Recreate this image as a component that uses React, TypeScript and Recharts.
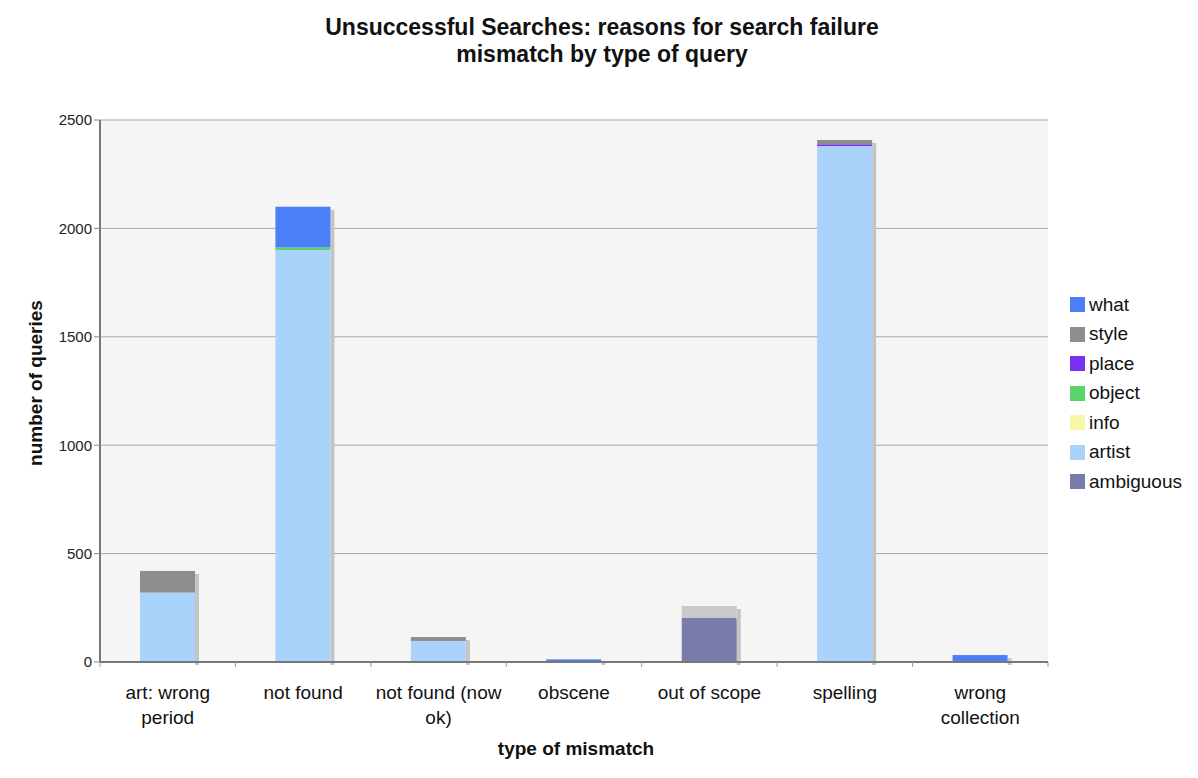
import React from "react";
import { BarChart, Bar, XAxis, YAxis, CartesianGrid } from "recharts";

const categories = ["art: wrong period", "not found", "not found (now ok)", "obscene", "out of scope", "spelling", "wrong collection"];
const categoryLines = [["art: wrong", "period"], ["not found"], ["not found (now", "ok)"], ["obscene"], ["out of scope"], ["spelling"], ["wrong", "collection"]];

const ambiguous = [0, 0, 0, 0, 203, 0, 0];
const artist = [320, 1900, 97, 0, 0, 2380, 0];
const info = [0, 0, 0, 0, 0, 0, 0];
const object = [0, 12, 0, 0, 0, 0, 0];
const place = [0, 0, 0, 0, 0, 8, 0];
const style = [100, 0, 18, 0, 0, 20, 0];
const what = [0, 188, 0, 12, 0, 0, 32];
const other = [0, 0, 0, 0, 55, 0, 0];

const yTicks = [0, 500, 1000, 1500, 2000, 2500];

const series = [
  { key: "ambiguous", values: ambiguous, color: "#7a7aab" },
  { key: "artist", values: artist, color: "#a9d3fb" },
  { key: "info", values: info, color: "#f8f7a6" },
  { key: "object", values: object, color: "#5cd46c" },
  { key: "place", values: place, color: "#7a30f0" },
  { key: "style", values: style, color: "#8e8e8e" },
  { key: "what", values: what, color: "#4a7ff6" },
  { key: "other", values: other, color: "#c9c9c9" },
];

const legendItems = ["what", "style", "place", "object", "info", "artist", "ambiguous"];

const data = categories.map((c, i) => {
  const row: any = { name: c, idx: i };
  series.forEach((s) => (row[s.key] = s.values[i]));
  return row;
});

const FONT = "'Liberation Sans', Arial, Helvetica, sans-serif";

const ShadowBar = (props: any) => {
  const { x, y, width, height, fill } = props;
  if (!height || height <= 0) return null;
  return (
    <g>
      <rect x={x + width} y={y + 3} width={4} height={height} fill="#c4c4c4" />
      <rect x={x} y={y} width={width} height={height} fill={fill} />
    </g>
  );
};

const XTick = (props: any) => {
  const { x, y, index, payload } = props;
  const lines = categoryLines[index] || [];
  const half = payload && payload.offset ? payload.offset : 67.7;
  return (
    <g>
      <line x1={x - half} x2={x - half} y1={y - 8} y2={y - 3} stroke="#999" />
      {index === categories.length - 1 && <line x1={x + half} x2={x + half} y1={y - 8} y2={y - 3} stroke="#999" />}
      {lines.map((l, i) => (
        <text key={i} x={x} y={y + 29 + i * 25} textAnchor="middle" fontSize={19} fill="#111" fontFamily={FONT}>
          {l}
        </text>
      ))}
    </g>
  );
};

export default function App() {
  return (
    <div style={{ position: "absolute", left: 0, top: 0, width: 1198, height: 778, background: "#fff", fontFamily: FONT }}>
      <div style={{ position: "absolute", top: 14, left: 0, width: 1204, textAlign: "center", fontWeight: "bold", fontSize: 23, lineHeight: "27px", color: "#111" }}>
        <div>Unsuccessful Searches: reasons for search failure</div>
        <div>mismatch by type of query</div>
      </div>
      <div style={{ position: "absolute", left: 576, top: 738, transform: "translateX(-50%)", fontWeight: "bold", fontSize: 19, color: "#111", whiteSpace: "nowrap" }}>
        type of mismatch
      </div>
      <div style={{ position: "absolute", left: 36, top: 383, transform: "translate(-50%, -50%) rotate(-90deg)", fontWeight: "bold", fontSize: 19, color: "#111", whiteSpace: "nowrap" }}>
        number of queries
      </div>
      <div style={{ position: "absolute", left: 1070, top: 290, fontSize: 19, color: "#111" }}>
        {legendItems.map((k) => {
          const s = series.find((q) => q.key === k)!;
          return (
            <div key={k} style={{ display: "flex", alignItems: "center", height: 29.5 }}>
              <div style={{ width: 15, height: 15, background: s.color, marginRight: 4 }} />
              <span>{k}</span>
            </div>
          );
        })}
      </div>
      <BarChart
        width={1198}
        height={778}
        data={data}
        margin={{ top: 120, right: 150, bottom: 56, left: 40 }}
        barCategoryGap={0}
        style={{ position: "absolute", left: 0, top: 0 }}
      >
        <CartesianGrid vertical={false} stroke="#a8a8a8" fill="#f5f5f5" />
        <XAxis
          dataKey="name"
          tick={<XTick />}
          tickLine={false}
          axisLine={{ stroke: "#777", strokeWidth: 2 }}
          interval={0}
          height={60}
        />
        <YAxis
          domain={[0, 2500]}
          ticks={yTicks}
          width={60}
          tick={{ fontSize: 15, fill: "#222", fontFamily: FONT }}
          tickLine={{ stroke: "#888" }}
          tickSize={6}
          axisLine={{ stroke: "#777", strokeWidth: 2 }}
        />
        <YAxis
          yAxisId="r"
          orientation="right"
          domain={[0, 2500]}
          width={0}
          tick={false}
          tickLine={false}
          axisLine={{ stroke: "#aaa", strokeWidth: 2 }}
        />
        {series.map((s) => (
          <Bar
            key={s.key}
            dataKey={s.key}
            stackId="a"
            fill={s.color}
            barSize={55}
            isAnimationActive={false}
            shape={<ShadowBar />}
          />
        ))}
      </BarChart>
    </div>
  );
}
